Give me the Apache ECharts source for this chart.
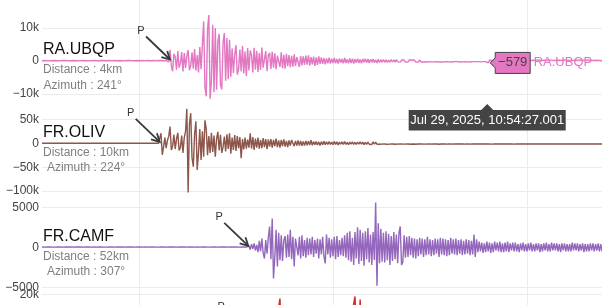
<!DOCTYPE html>
<html><head><meta charset="utf-8">
<script src="https://cdn.jsdelivr.net/npm/echarts@6/dist/echarts.min.js"></script>
<style>html,body{margin:0;padding:0;background:#fff}#c{width:602px;height:305px}</style>
</head><body><div id="c"></div>
<script>
// ---- data ----
const stationNames = ['RA.UBQP', 'FR.OLIV', 'FR.CAMF'];
const distances = ['Distance : 4km', 'Distance : 10km', 'Distance : 52km'];
const azimuths = ['Azimuth : 241°', 'Azimuth : 224°', 'Azimuth : 307°'];
// sample times: seconds relative to 10:54:00 (first sample, step)
const startTime = -7.5;
const sampleStep = 0.1;
const fourthStep = 0.2;
// P arrival times (s rel. 10:54:00) per trace
const pArrivals = [2.4, 1.6, 8.45, 8.6];
// hover readout
const hoverTime = 27.001;
const hoverValue = -579;
const hoverTimeLabel = 'Jul 29, 2025, 10:54:27.001';

const ubqp = [
 80,-120,150,-60,100,-140,120,-90,60,-110,
 140,-100,70,-150,110,-70,130,-100,150,-80,
 110,-140,60,-120,170,-100,80,-150,120,-70,
 100,-130,140,-110,80,-160,120,-80,100,-140,
 150,-100,120,-140,80,-120,170,-100,140,-180,
 90,-130,150,-70,110,-150,130,-90,70,-120,
 150,-110,80,-140,120,-80,140,-110,160,-90,
 120,-150,70,-130,160,-110,90,-140,130,-80,
 110,-120,150,-100,90,-150,130,-90,110,-130,
 160,-110,130,-150,90,-130,180,-140,-250,
 3400,-1500,-3100,2200,1200,-2600,3000,-2000,-800,2700,
 -3200,2400,-2100,1500,3300,-2800,-1400,2600,-2300,3600,
 -2900,1800,-3500,4200,-2500,
 5000,12000,-8000,-10700,9500,13900,-11400,-6000,11000,-9500,10000,
 -8700,6000,8200,-7200,-8600,5500,8500,-6000,7000,-5500,6400,
 -4800,3800,-3600,2000,4800,-4100,-2500,3500,-3200,4500,
 -3800,2900,-4600,3900,-2900,3200,1800,-3500,4000,-2600,
 3100,-3300,2400,
 -2700,4100,-2000,-2600,3000,-3100,1800,2500,-2400,2800,
 -2000,2300,-2500,1600,2100,-1800,2600,-2200,1900,-2300,
 2200,-1600,1800,
 -1900,1600,-1700,2000,-1500,1200,1600,-1800,1500,-1300,
 1400,-1200,1600,-1100,1700,-1400,1200,-1000,1300,-1500,
 1100,-1200,1400,
 -900,1100,-900,900,-1000,800,-700,1000,-800,700,
 -600,900,-700,600,-800,800,-500,600,-700,900,
 -600,500,-700,800,-600,700,-800,600,-500,700,
 -600,500,-700,600,-400,700,-500,600,-600,500,
 -400,600,-500,400,-600,500,
 -450,400,-350,450,-400,350,-400,300,-350,400,
 -300,350,-350,400,-250,300,-350,300,-300,300,
 -350,250,-300,350,-250,300,-250,300,-350,250,
 -300,350,-300,200,-250,300,-300,250,-200,300,
 -250,350,-250,300,-200,350,-300,250,-300,200,
 -250,300,-200,300,-250,200,-300,250,-200,300,
 -200,250,-300,200,-250,300,-200,200,-250,200,
 -300,250,-200,300,-200,250,-200,200,-250,200,
 -200,250,-200,300,-579,250,-300,200,-250,300,
 -200,250,-300,200,-250,300,-200,250,-200,300,
 -250,200,-300,250,-200,200,-250,300,-200,250,
 -250,200,-200,300,-250,200,-250,200,-300,250,
 -200,250,-200,300,-250,200,-250,250,-200,200,
 -250,300,-200,250,-200,200,-300,250,-200,250,
 -200,200,-250,300,-200,250,-200,200,-250,200,
 -300,250,-200,250,-200,300,-250,200,-200,250,
 -200,300,-250,200,-250,200,-200,250,-300,200,
 -250,200,-200
];
const oliv = [
 200,-150,100,-250,150,-100,250,-200,100,-150,
 150,-200,250,-100,200,-150,100,-250,150,-200,
 100,-250,150,-200,250,-100,200,-150,100,-200,
 250,-100,200,-150,100,-250,150,-200,250,-150,
 150,-200,100,-250,200,-150,250,-100,150,-200,
 200,-150,250,-100,150,-200,100,-250,200,-150,
 100,-200,150,-250,200,-100,250,-150,100,-200,
 250,-150,100,-200,150,-250,200,-100,250,-150,
 150,-250,200,-100,250,-150,100,-200,150,-250,
 200,-400,
 21000,-24000,-8000,12000,-10000,6000,15000,35000,-14000,-6000,
 18000,-12000,9000,22000,-15000,-9000,16000,-20000,12000,25000,
 72000,-103000,40000,63000,-30000,
 -49000,20000,46000,-56000,-20000,30000,-35000,25000,-28000,48000,
 30000,-25000,15000,-20000,
 22000,-18000,16000,-28000,10000,24000,-15000,18000,-20000,-8000,
 14000,-17000,19000,-12000,21000,-22000,12000,-14000,17000,-16000,
 15000,-10000,13000,-31000,9000,
 -13000,12000,-11000,8000,-9000,21000,-11000,13000,-14000,10000,
 -9000,12000,-11000,7000,-10000,11000,-8000,9000,-12000,8000,
 -7000,9000,-9000,7000,-6000,10000,-8000,6000,-9000,7000,
 -6000,8000,-7000,5000,-8000,6000,-5000,7000,
 10000,-6000,5000,-5000,6000,-4500,5000,-5500,4000,-4500,
 5000,-4000,4500,-3500,6500,-4000,3500,-3000,4000,-3500,
 3000,-4500,3500,-3000,4500,-3000,3000,-2500,3500,-2500,
 2500,-3000,4000,-2500,3000,-3500,2500,-2000,3000,-2500,
 3500,-2500,2000,-3000,2500,-2000,3000,-2500,2000,-2500,
 2500,-2000,3000,-2000,2500,-3000,2000,-2500,2500,-2000,
 2000,-2500,3000,-2000,2500,-2000,2000,
 -2000,1500,-1800,2000,-1500,1800,-2200,1500,-1700,2000,
 -1500,1700,-2000,1500,-1800,1600,-1500,2000,-1700,1500,
 -1800,1500,-1600,1800,-2000,1500,-1500,1700,-1900,1400,
 -1600,1800,-1500,1600,-1800,1500,-1700,1900,-1500,1600,
 -1800,1500,-1600,1700,-1500,1800,-1900,1500,-1600,1400,
 -1500,1700,-1800,1500,-1400,1600,-1700,1500,-1600,1800,
 -1500,1400,-1600,1700,-1500,1500,-1800,1600,-1400,1500,
 -1700,1600,-1500,1400,-1600,1700,-1500,1500,-1400,1600,
 -1500,1400,-1600,1500,-1400,1500,-1700,1500,-1600,1400,
 -1400,1600,-1500,1700,-1500,1400,-1600,1800,-1500,1500,
 -1600,1500,-1400,1500,-1700,1600,-1500,1400,-1500,1600,
 -1500,1700,-1400,1500,-1600,1500,-1500,1400,-1600,1500,
 -1400,1500,-1600,1400,-1500,1700,-1500,1600,-1400,1500,
 -1600,1400,-1500,1600,-1400,1500,-1500,1400,-1600,1500,
 -1500,1600,-1400,1500,-1500,1400,-1600,1500,-1400,1500,
 -1400,1500,-1500,1600,-1400,1500,-1500,1400,-1500,1400,
 -1500,1400,-1500,1500,-1400,1600,-1500,1400,-1500,1400,
 -1400,1500,-1400
];
const camf = [
 30,-40,20,-30,40,-20,30,-40,20,-30,
 20,-30,40,-20,30,-40,20,-30,40,-20,
 30,-20,40,-30,20,-40,30,-20,40,-30,
 40,-30,20,-40,30,-20,40,-30,20,-40,
 30,-40,20,-30,40,-20,30,-40,20,-30,
 20,-30,40,-20,30,-40,20,-30,40,-20,
 30,-20,40,-30,20,-40,30,-20,40,-30,
 40,-30,20,-40,30,-20,40,-30,20,-40,
 30,-40,20,-30,40,-20,30,-40,20,-30,
 20,-30,40,-20,30,-40,20,-30,40,-20,
 30,-20,40,-30,20,-40,30,-20,40,-30,
 40,-30,20,-40,30,-20,40,-30,20,-40,
 30,-40,20,-30,40,-20,30,-40,20,-30,
 20,-30,40,-20,30,-40,20,-30,40,-20,
 30,-20,40,-30,20,-40,30,-20,40,-30,
 40,-30,20,-40,30,-20,40,-30,20,-40,
 200,-300,400,-200,500,-400,300,-600,800,-500,
 1100,-700,-1400,900,-800,1200,2600,-1500,
 3600,-3900,-1200,2200,
 -2400,1800,-1600,1500,-1700,900,1400,-1300,1600,-1200,
 2200,-1500,1300,-2400,1100,1200,-1000,1300,-1400,1500,
 -1100,900,-1300,
 1200,-1000,1100,-900,1300,-1200,900,-800,1100,-1400,
 1000,-900,1300,-1100,-2000,1600,-900,1200,-1300,1000,
 -1100,1300,-1500,1400,-1200,900,-1000,1200,-1100,1500,
 -1300,
 1800,-1600,2000,-1800,1200,-2200,1900,-1400,2500,-2100,
 2200,-1700,1800,-2300,2000,-1500,2400,-1900,1600,-2200,
 1900,-1600,
 5600,-4800,3000,
 -2000,2300,-1800,1800,-1900,2000,-1600,1700,-2200,1400,
 -1700,1900,-1500,1600,-2000,1800,2600,-2200,-1800,1500,
 -1300,
 1300,-1200,1400,-1000,1200,-1300,1100,-1400,1000,-1100,
 1200,-900,1100,-1200,1000,-1000,1300,-900,1000,-1100,
 900,-1000,1100,-800,1000,-1200,1200,-900,1100,-1000,
 1000,-1100,900,-1000,1200,-800,1000,-900,1100,-1000,
 900,-800,1000,-1000,800,-900,1000,-800,900,-1000,
 800,-900,
 1600,-1200,1000,
 -600,700,-500,600,-700,500,-600,700,-500,600,
 -700,500,-600,700,-400,600,-500,700,-600,500,
 -600,600,-500,700,-600,500,-400,600,-500,600,
 -500,400,-600,500,-400,600,-500,400,-500,500,
 -400,600,-500,400,-500,500,-400,500,-600,400,
 -500,500,-400,600,-500,400,-500,600,-400,500,
 -400,500,-500,400,-600,500,-400,500,-500,400,
 -500,400,-500,600,-400,500,-400,500,-500,400,
 -400,500,-600,400,-500,400,-500,500,-400,500,
 -500,400,-400,500,-500,400,-500
];
const fourth = [
 0,0,0,0,0,0,0,0,0,0, 0,0,0,0,0,0,0,0,0,0,
 0,0,0,0,0,0,0,0,0,0, 0,0,0,0,0,0,0,0,0,0,
 0,0,0,0,0,0,0,0,0,0, 0,0,0,0,0,0,0,0,0,0,
 0,0,0,0,0,0,0,0,0,0, 0,0,0,0,0,0,0,0,0,0,
 0,
 3000,-4000,5000,-6000,4000,-5000,8000,-7000,6000,-9000,
 10000,18000,-12000,9000,-8000,11000,-10000,7000,-9000,8000,
 -7000,9000,-8000,6000,-7000,8000,-9000,7000,-6000,8000,
 -7000,9000,-10000,6000,-8000,7000,-9000,10000,-8000,12000,
 19000,-11000,17500,-12000,10000,-9000,11000,-8000,9000,-7000,
 8000,-7000,6000,-8000,7000,-6000,5000,-7000,6000,-5000,
 6000,-5000,7000,-6000,5000,-4000,6000,-5000,4000,-5000,
 5000,-4000,4000,-5000,6000,-4000,3000,-4000,5000,-3000,
 4000,-3000,5000,-4000,3000,-4000,4000,-3000,3000,-4000,
 3000,-3000,4000,-3000,3000,-2000,3000,-3000,2000,-3000,
 3000,-2000,3000,-3000,2000,-2000,3000,-2000,2000,-3000,
 2000,-2000,3000,-2000,2000,-3000,2000,-2000,3000,-2000,
 2000,-2000,2000,-3000,2000,-2000,3000,-2000,2000,-2000,
 2000,-2000,2000,-2000,3000,-2000
];
const traces = [ubqp, oliv, camf, fourth];
const steps = [sampleStep, sampleStep, sampleStep, fourthStep];
// y axis ranges / tick steps per panel
const yMins = [-20000, -150000, -10000, -20000];
const yMaxs = [20000, 100000, 10000, 40000];
const ySteps = [10000, 50000, 5000, 20000];

// ---- style ----
const colors = ['#e377c2', '#8c564b', '#9467bd', '#d62728'];
const gridBoxes = [
  {top: -5, height: 132},
  {top: 95.5, height: 119.5},
  {top: 167.3, height: 160},
  {top: 251.6, height: 128.1}
];
const FONT = '"Liberation Sans", Arial, sans-serif';
const GRIDC = '#ebebeb';

function fmt(v) {
  const a = Math.abs(v);
  const s = a >= 10000 ? (a / 1000) + 'k' : String(a);
  return (v < 0 ? '\u2212' : '') + s;
}

const grids = [], xAxes = [], yAxes = [], series = [];
for (let k = 0; k < 4; k++) {
  grids.push({left: 42, right: 0, top: gridBoxes[k].top, height: gridBoxes[k].height,
    containLabel: false, outerBoundsMode: 'none'});
  xAxes.push({type: 'value', gridIndex: k, min: -7.5, max: 35.8, interval: 7.5,
    axisLine: {show: false}, axisTick: {show: false}, axisLabel: {show: false},
    splitLine: {show: true, lineStyle: {color: ['rgba(0,0,0,0)', GRIDC], width: 1}}});
  yAxes.push({type: 'value', gridIndex: k, min: yMins[k], max: yMaxs[k], interval: ySteps[k],
    axisLine: {show: false}, axisTick: {show: false},
    axisLabel: {show: true, formatter: fmt, margin: 3, color: '#444', fontSize: 12, fontFamily: FONT,
      showMinLabel: false, showMaxLabel: false},
    splitLine: {show: true, showMinLine: false, showMaxLine: false, lineStyle: {color: GRIDC, width: 1}}});
  series.push({type: 'line', xAxisIndex: k, yAxisIndex: k, showSymbol: false, symbol: 'none',
    silent: true, animation: false, clip: true,
    lineStyle: {color: colors[k], width: 1.4}, itemStyle: {color: colors[k]},
    data: traces[k].map((v, i) => [startTime + i * steps[k], v])});
}

const chart = echarts.init(document.getElementById('c'), null, {renderer: 'canvas'});
chart.setOption({backgroundColor: '#fff', animation: false, grid: grids, xAxis: xAxes, yAxis: yAxes, series: series});

const px = (g, t, v) => chart.convertToPixel({gridIndex: g}, [t, v]);
const ctx = document.createElement('canvas').getContext('2d');
function tw(text, size) { ctx.font = size + 'px ' + FONT; return ctx.measureText(text).width; }
function txt(text, x, y, size, fill, align) {
  return {type: 'text', z: 130, silent: true,
    style: {text: text, x: x, y: y, fill: fill, font: size + 'px ' + FONT,
      align: align, verticalAlign: 'middle', textAlign: align, textVerticalAlign: 'middle'}};
}
const g = [];
for (let k = 0; k < 3; k++) {
  const zy = px(k, 0, 0)[1];
  g.push(txt(stationNames[k], 43, zy - 11, 16, '#111', 'left'));
  const w = Math.max(tw(distances[k], 12), tw(azimuths[k], 12));
  const cx = 43 + w / 2;
  g.push(txt(distances[k], cx, zy + 9, 12, '#7f7f7f', 'center'));
  g.push(txt(azimuths[k], cx, zy + 24.5, 12, '#7f7f7f', 'center'));
}
// P arrows
for (let k = 0; k < 4; k++) {
  const p = px(k, pArrivals[k], 0);
  const tx = p[0], ty = p[1] - 1.5;
  g.push(txt('P', tx - 29, ty - 28.5, 11, '#333', 'center'));
  g.push({type: 'polyline', z: 100, silent: true, shape: {points: [[tx - 24, ty - 23], [tx - 1, ty - 1]]},
    style: {stroke: '#3a3a3a', lineWidth: 1.8, fill: null}});
  const L = Math.hypot(24, 23), dx = -24 / L, dy = -23 / L, a = 28 * Math.PI / 180, s = 9;
  const r1 = [dx * Math.cos(a) - dy * Math.sin(a), dx * Math.sin(a) + dy * Math.cos(a)];
  const r2 = [dx * Math.cos(-a) - dy * Math.sin(-a), dx * Math.sin(-a) + dy * Math.cos(-a)];
  g.push({type: 'polyline', z: 100, silent: true,
    shape: {points: [[tx + r1[0] * s, ty + r1[1] * s], [tx, ty], [tx + r2[0] * s, ty + r2[1] * s]]},
    style: {stroke: '#3a3a3a', lineWidth: 1.8, fill: null}});
}
// hover label
const hp = px(0, hoverTime, hoverValue);
const hx = hp[0], hy = hp[1];
g.push({type: 'polygon', z: 110, silent: true,
  shape: {points: [[hx + 2, hy], [hx + 7, hy - 5], [hx + 7, hy - 10.5], [hx + 42, hy - 10.5], [hx + 42, hy + 10.5], [hx + 7, hy + 10.5], [hx + 7, hy + 5]]},
  style: {fill: colors[0], stroke: '#444', lineWidth: 1}});
g.push(txt(fmt(hoverValue), hx + 24.5, hy, 13, '#444', 'center'));
g.push(txt(stationNames[0], hx + 45.5, hy, 13, colors[0], 'left'));
const cx = hx - 1;
g.push({type: 'polygon', z: 110, silent: true,
  shape: {points: [[cx - 78.5, 110], [cx - 6, 110], [cx, 104], [cx + 6, 110], [cx + 78.5, 110], [cx + 78.5, 130.5], [cx - 78.5, 130.5]]},
  style: {fill: '#444', stroke: null}});
g.push(txt(hoverTimeLabel, cx, 120.5, 13, '#fff', 'center'));
chart.setOption({graphic: {elements: g}});
</script></body></html>
